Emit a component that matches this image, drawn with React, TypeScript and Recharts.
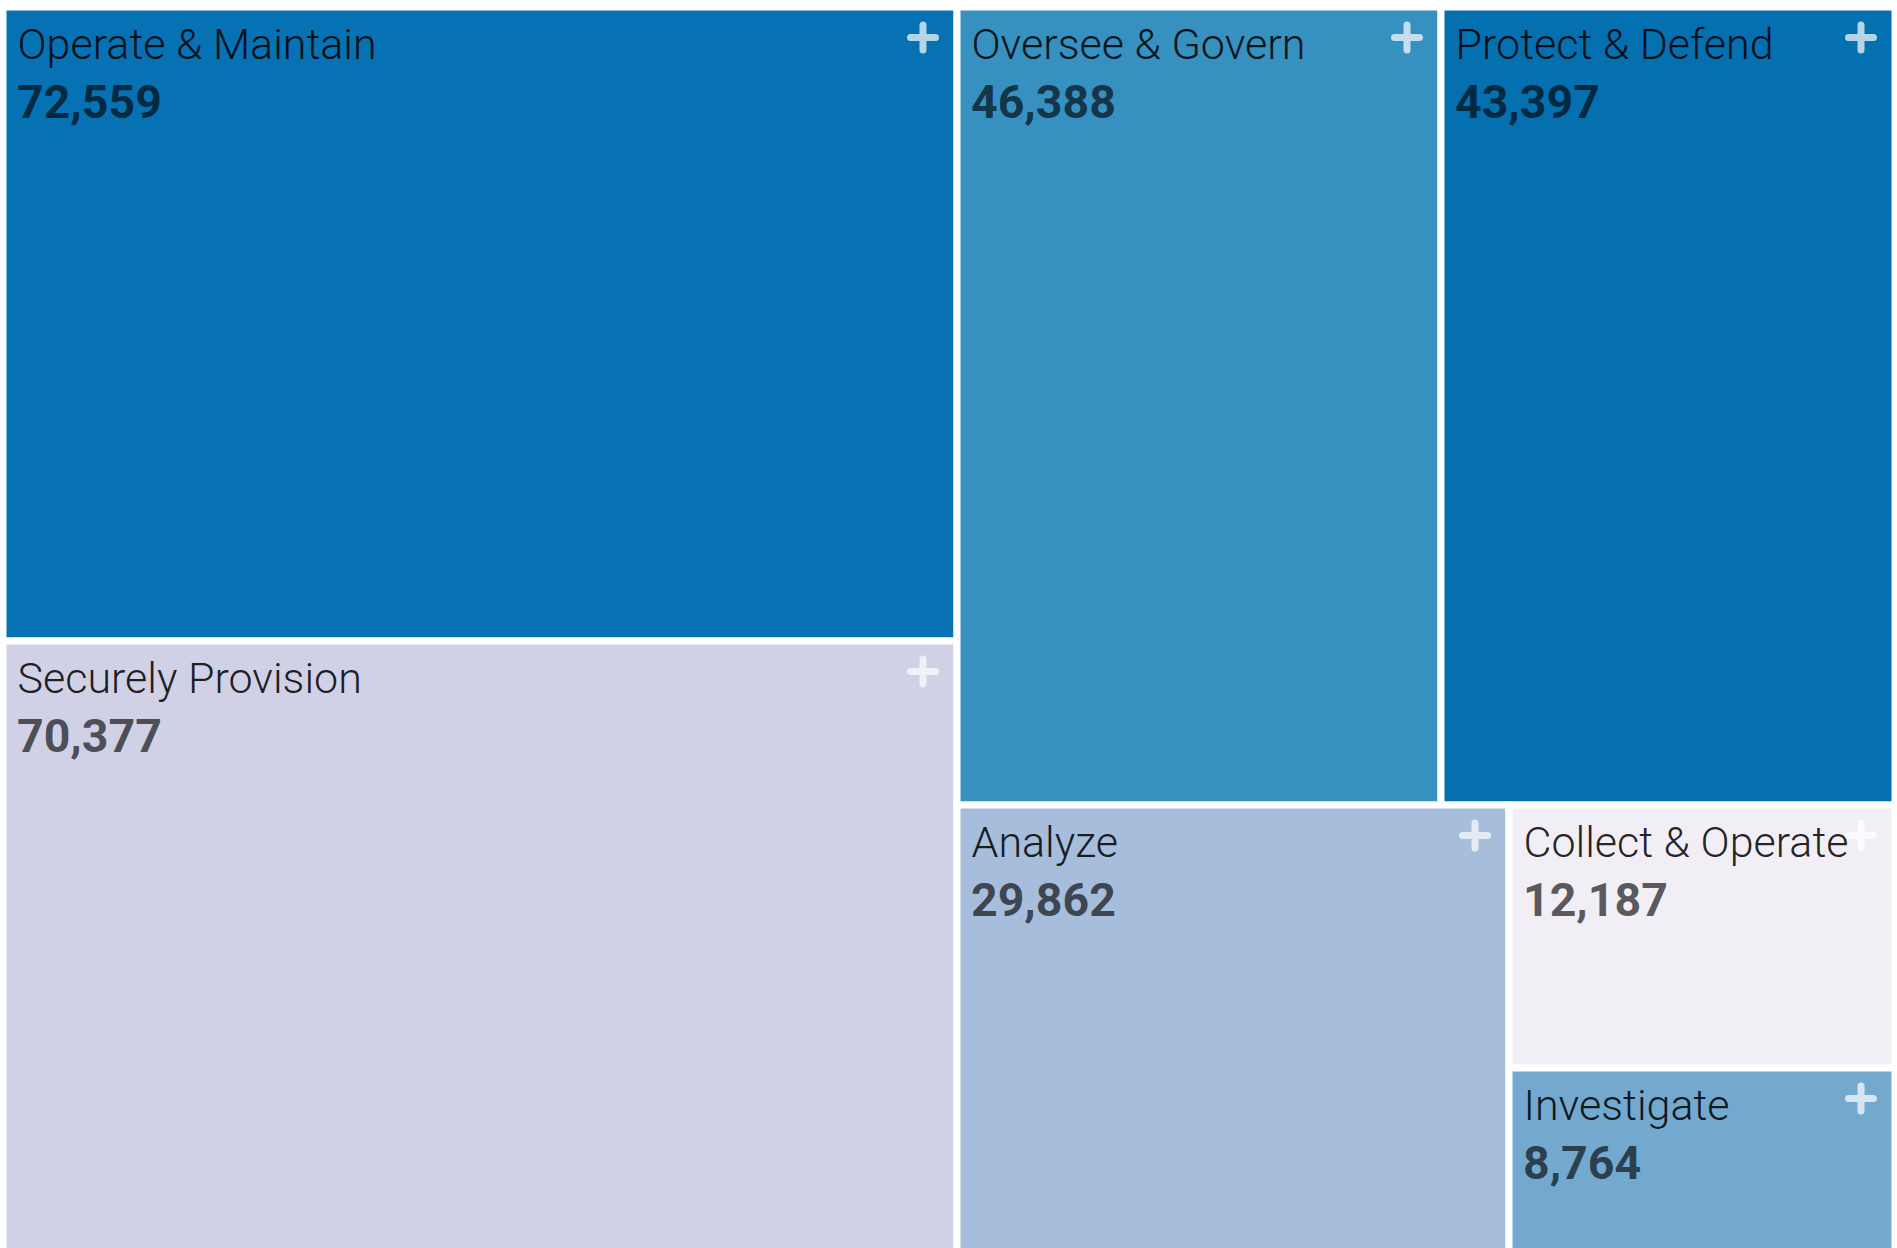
import React from 'react';
import { Treemap } from 'recharts';

const names = [
  'Operate & Maintain',
  'Securely Provision',
  'Oversee & Govern',
  'Protect & Defend',
  'Analyze',
  'Collect & Operate',
  'Investigate',
];
const values = [72559, 70377, 46388, 43397, 29862, 12187, 8764];
const colors = ['#0672b3', '#d0d1e6', '#3690c0', '#0570b0', '#a6bddb', '#f1eef6', '#74a9cf'];

const data = names.map((name, i) => ({ name, size: values[i], color: colors[i] }));

const fmt = (v: number) => v.toLocaleString('en-US');

const GAP = 7;

function CellContent(props: any) {
  const { x, y, width, height, depth, name, value, color } = props;
  if (depth !== 1) return null;
  const h = GAP / 2;
  const right = x + width - h;
  const top = y + h;
  const cx = right - 30.5;
  const cy = top + 27;
  const arm = 12.5;
  return (
    <g>
      <rect x={x} y={y} width={width} height={height} fill={color} stroke="#fff" strokeWidth={GAP} />
      <text
        x={x + h + 11}
        y={top + 48.5}
        fontFamily="Roboto"
        fontWeight={300}
        fontSize={43}
        fill="#000"
        fillOpacity={0.87}
      >
        {name}
      </text>
      <text
        x={x + h + 10.5}
        y={top + 107.5}
        fontFamily="Roboto"
        fontWeight={700}
        fontSize={46.5}
        fill="#000"
        fillOpacity={0.65}
      >
        {fmt(value)}
      </text>
      <path
        d={`M${cx - arm},${cy}H${cx + arm}M${cx},${cy - arm}V${cy + arm}`}
        stroke="#fff"
        strokeOpacity={0.7}
        strokeWidth={7}
        strokeLinecap="round"
        fill="none"
      />
    </g>
  );
}

export default function App() {
  return (
    <div
      style={{
        position: 'absolute',
        left: 3,
        top: 7,
        width: 1892,
        height: 1241,
        overflow: 'hidden',
        background: '#fff',
      }}
    >
      <Treemap
        width={1892}
        height={1249}
        data={data}
        dataKey="size"
        nameKey="name"
        aspectRatio={1}
        isAnimationActive={false}
        content={(p: any) => <CellContent {...p} />}
      />
    </div>
  );
}
